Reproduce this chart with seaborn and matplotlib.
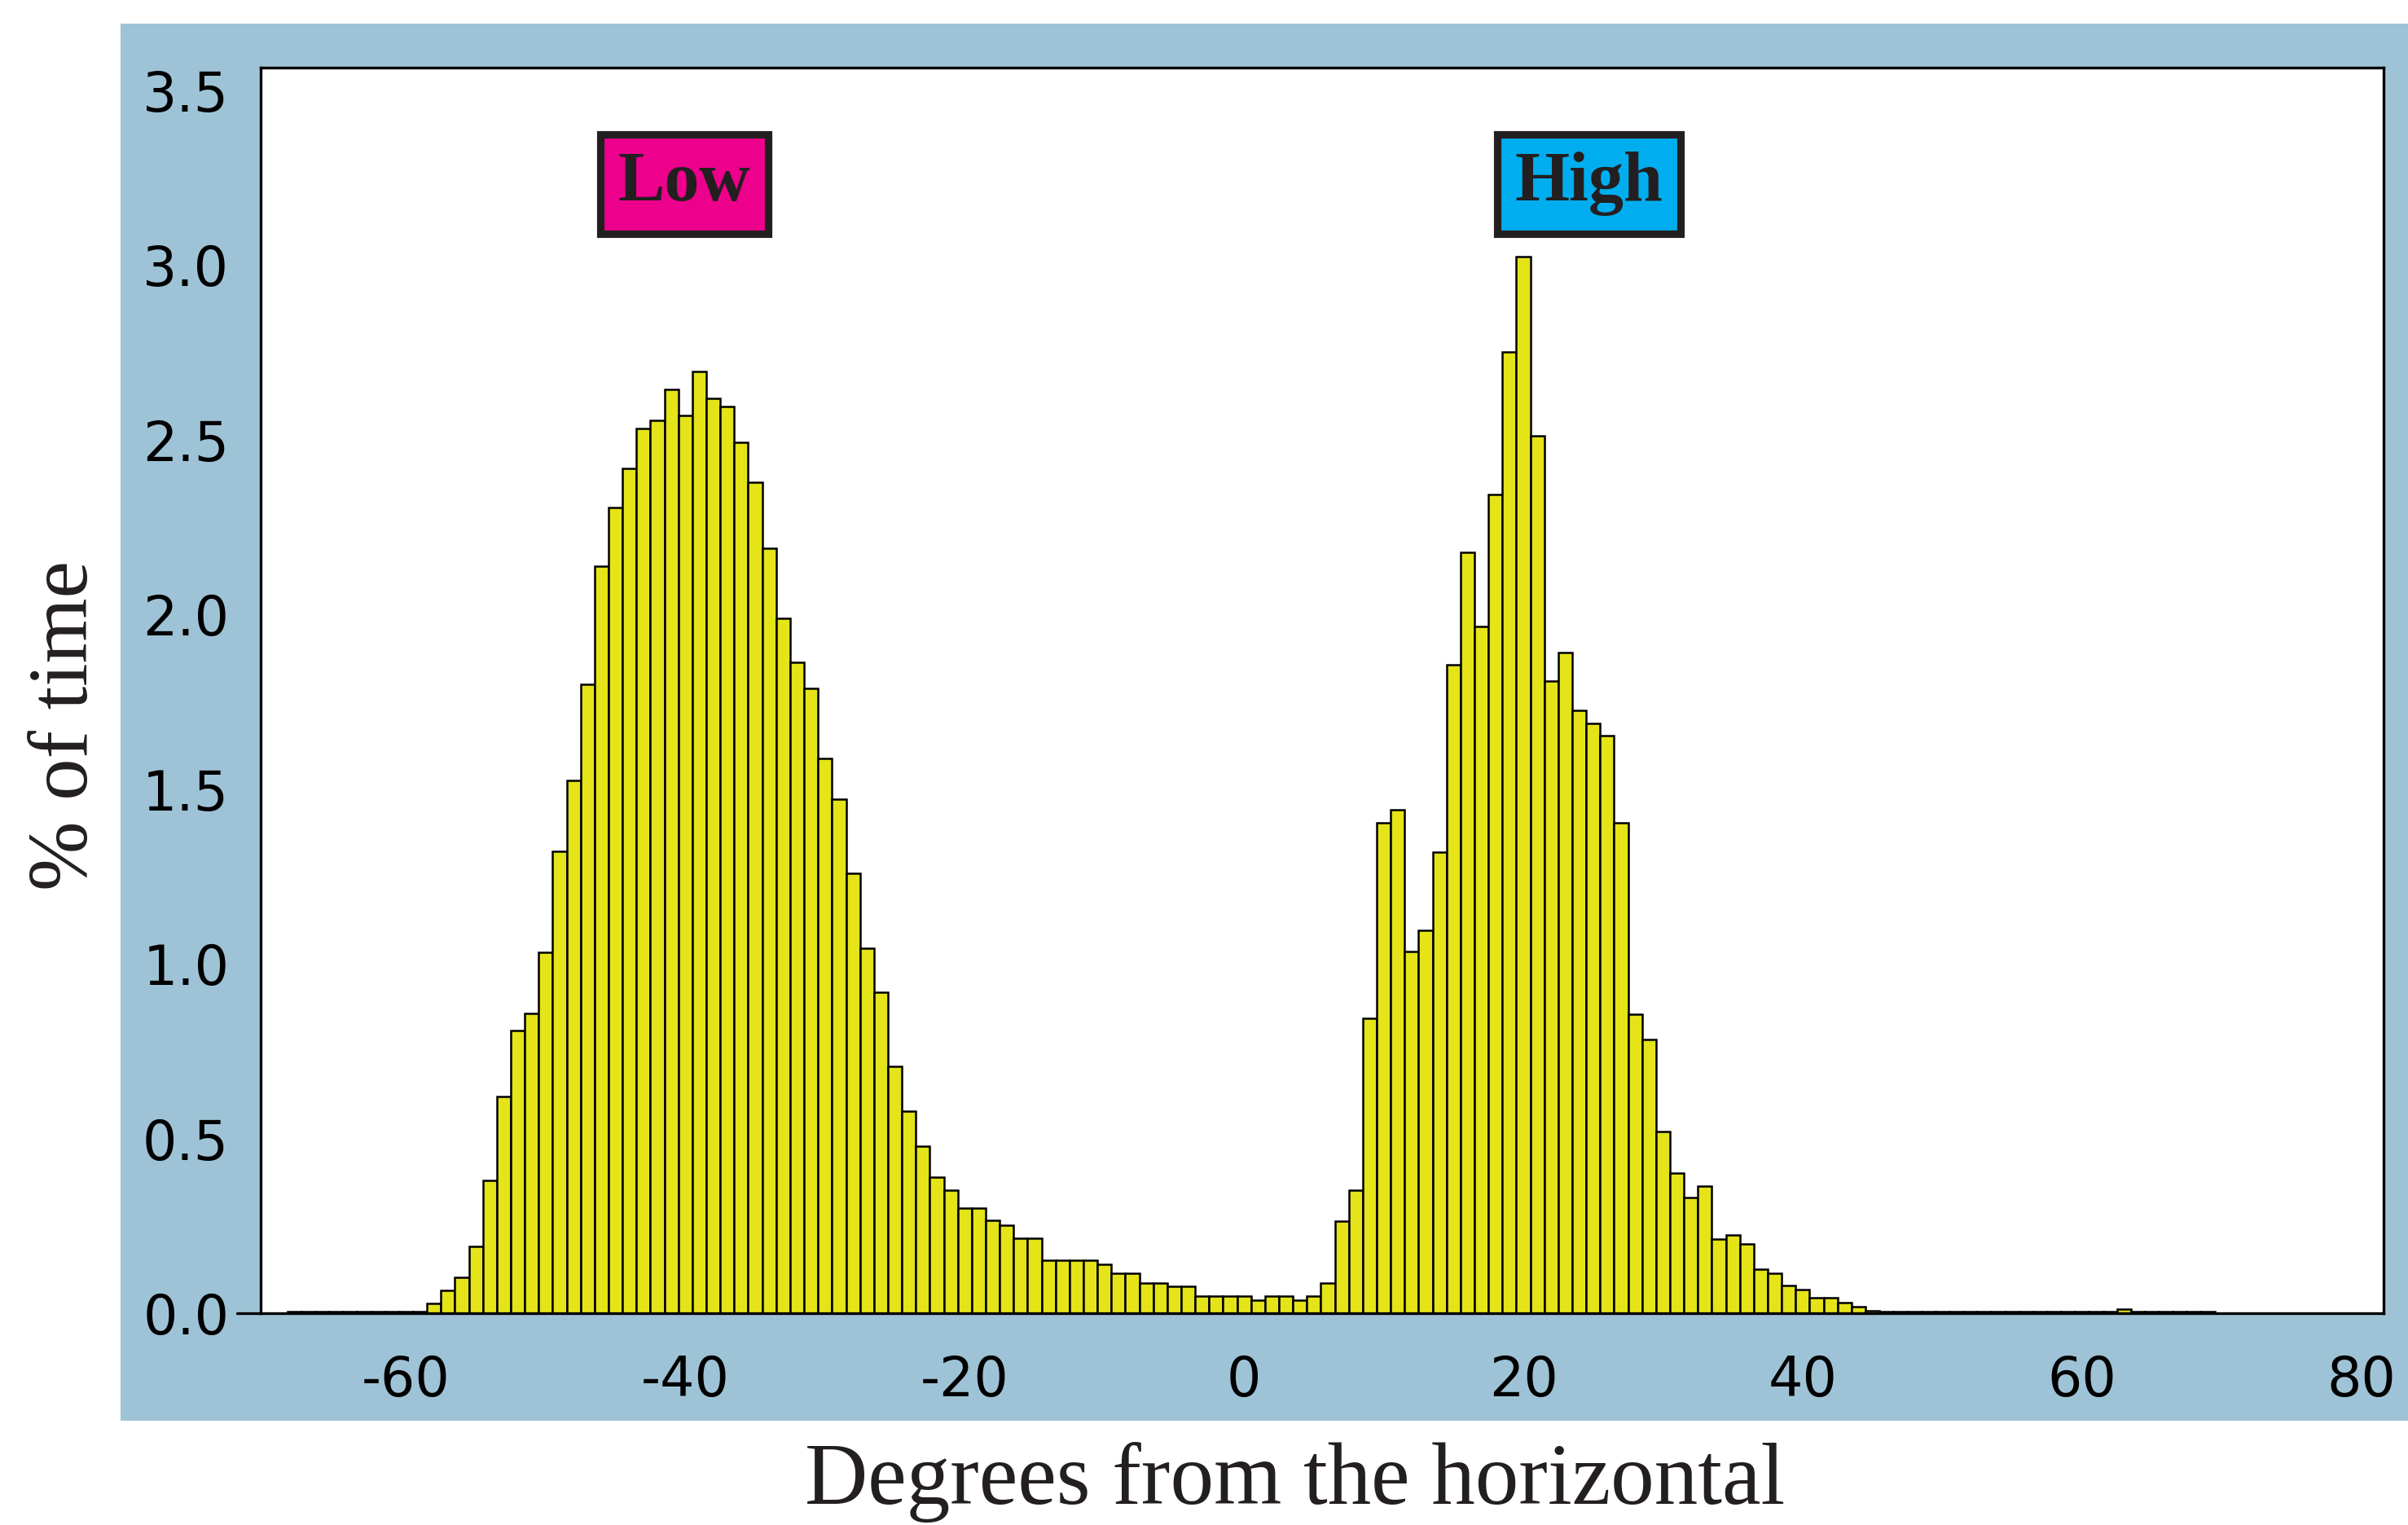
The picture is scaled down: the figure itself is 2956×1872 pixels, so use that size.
import pandas as pd
import seaborn as sns
import matplotlib.pyplot as plt
from matplotlib.patches import Rectangle

sns.set_theme(style='white')
plt.rcParams['font.family'] = ['DejaVu Sans']

# bin centres (1 degree bins) and % of time
degrees = list(range(-68, 70))
pct = [
    0.004, 0.004, 0.004, 0.004, 0.004, 0.004, 0.004, 0.004, 0.004, 0.004,   # -68..-59
    0.028, 0.065, 0.102, 0.19, 0.379, 0.619, 0.809, 0.859, 1.033, 1.323,     # -58..-49
    1.524, 1.80, 2.139, 2.305, 2.418, 2.532, 2.556, 2.643, 2.569, 2.695,     # -48..-39
    2.619, 2.595, 2.493, 2.379, 2.19, 1.989, 1.862, 1.788, 1.587, 1.472,     # -38..-29
    1.258, 1.045, 0.918, 0.706, 0.578, 0.478, 0.39, 0.352, 0.30, 0.30,       # -28..-19
    0.265, 0.252, 0.214, 0.214, 0.151, 0.151, 0.151, 0.151, 0.14, 0.114,     # -18..-9
    0.114, 0.087, 0.087, 0.076, 0.076, 0.05, 0.05, 0.05, 0.05, 0.038,        # -8..1
    0.05, 0.05, 0.038, 0.05, 0.087, 0.264, 0.352, 0.844, 1.403, 1.44,        # 2..11
    1.035, 1.095, 1.32, 1.857, 2.177, 1.965, 2.344, 2.75, 3.025, 2.51,       # 12..21
    1.81, 1.89, 1.726, 1.688, 1.653, 1.403, 0.856, 0.783, 0.52, 0.40,        # 22..31
    0.33, 0.364, 0.212, 0.223, 0.198, 0.127, 0.114, 0.079, 0.067, 0.044,     # 32..41
    0.044, 0.031, 0.019, 0.008, 0.004, 0.004, 0.004, 0.004,                  # 42..49
    0.004, 0.004, 0.004, 0.004, 0.004, 0.004, 0.004, 0.004, 0.004, 0.004,   # 50..59
    0.004, 0.004, 0.004, 0.012, 0.004, 0.004, 0.004, 0.004, 0.004, 0.004,   # 60..69
]
xticks = [-60, -40, -20, 0, 20, 40, 60, 80]
yticks = [0.0, 0.5, 1.0, 1.5, 2.0, 2.5, 3.0, 3.5]

df = pd.DataFrame({'degrees': degrees, 'pct': pct})

ink = '#231f20'
fig = plt.figure(figsize=(14.78, 9.36), facecolor='white')
# light blue panel behind the plot
fig.add_artist(Rectangle((0.05, 0.0684), 0.95, 0.916, transform=fig.transFigure,
                         facecolor='#9fc3d6', edgecolor='none', zorder=-1))
ax = fig.add_axes([0.1083, 0.1389, 0.8816, 0.8168])
ax.set_facecolor('white')

sns.histplot(data=df, x='degrees', weights='pct', discrete=True, shrink=1,
             color='#e4e418', edgecolor='black', linewidth=0.9, alpha=1, ax=ax)

ax.set_xlim(-70.4, 81.6)
ax.set_ylim(0, 3.565)
ax.set_xticks(xticks)
ax.set_yticks(yticks)
ax.set_xticklabels([str(t) for t in xticks])
ax.set_yticklabels(['%.1f' % t for t in yticks])
ax.set_xlabel('')
ax.set_ylabel('')
ax.tick_params(direction='out', length=10, width=1.1, color='black',
               labelsize=24, labelcolor='black')
ax.tick_params(axis='x', pad=8)
ax.tick_params(axis='y', pad=4)
for s in ax.spines.values():
    s.set_visible(True)
    s.set_color('black')
    s.set_linewidth(1.2)
# baseline runs a little past the left spine
ax.plot([-0.011, 0], [0, 0], transform=ax.transAxes, color='black', lw=1.2, clip_on=False)

fig.text(0.5376, 0.0283, 'Degrees from the horizontal', ha='center', va='center',
         fontsize=38.5, family='Liberation Serif', color=ink)
fig.text(0.0277, 0.5246, '% of time', ha='center', va='center', rotation=90,
         fontsize=37, family='Liberation Serif', color=ink)

ax.text(0.1995, 0.9065, 'Low', transform=ax.transAxes, ha='center', va='center',
        fontsize=31, fontweight='bold', family='Liberation Serif', color=ink,
        bbox=dict(boxstyle='square,pad=0.25', fc='#ec008c', ec=ink, lw=3.3))
ax.text(0.6255, 0.9065, 'High', transform=ax.transAxes, ha='center', va='center',
        fontsize=31, fontweight='bold', family='Liberation Serif', color=ink,
        bbox=dict(boxstyle='square,pad=0.25', fc='#00aeef', ec=ink, lw=3.3))

plt.savefig('out.png', dpi=200)
